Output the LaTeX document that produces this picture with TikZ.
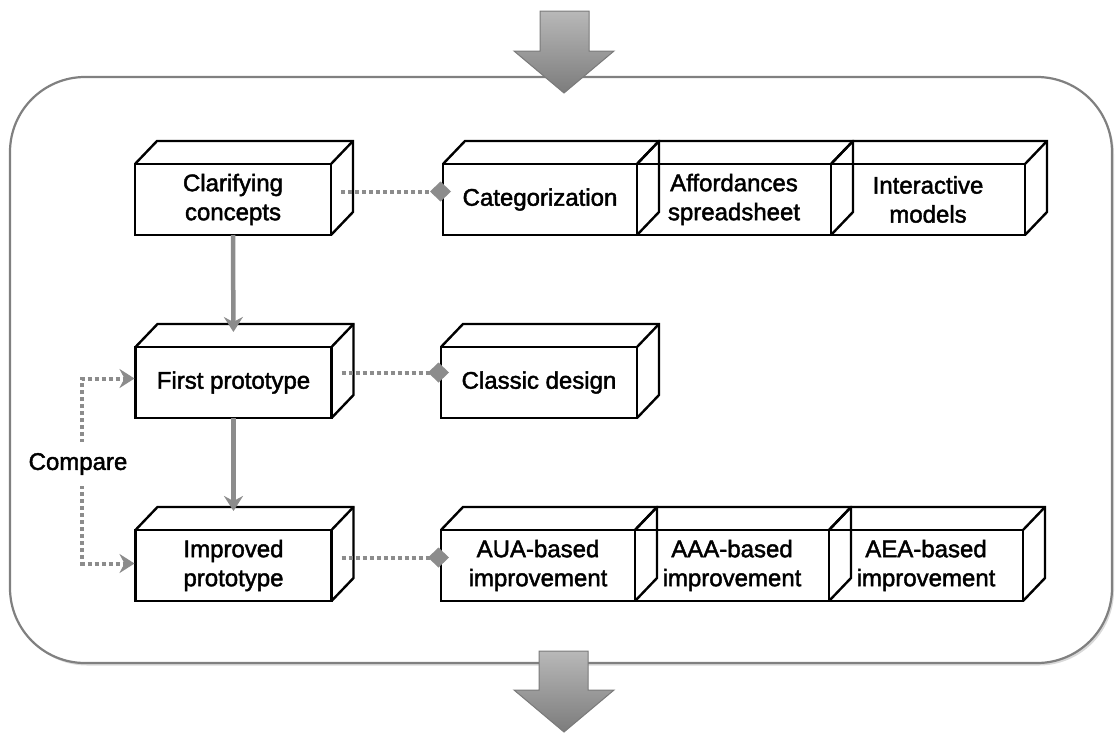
\documentclass[tikz,border=0pt]{standalone}
\usepackage{fontspec}
\setmainfont{Liberation Sans}
\newfontfamily\boxfont[FakeBold=1.8]{Liberation Sans}
\usetikzlibrary{arrows.meta,shadows}
\definecolor{linkgray}{HTML}{8C8C8C}
\definecolor{framegray}{HTML}{808080}
\definecolor{arrowedge}{HTML}{7A7A7A}
\definecolor{arrowtop}{HTML}{B8B8B8}
\definecolor{arrowbottom}{HTML}{7C7C7C}

% back edges (top face and right face) of a 3D box around a node
\newcommand\cubedepth[1]{%
  \draw[cubeedge] (#1.north west) -- ++(22,-23) -| ([shift={(22,-23)}]#1.south east) -- (#1.south east);
  \draw[cubeedge] (#1.north east) -- ++(22,-23);}

\begin{document}
\begin{tikzpicture}[x=1pt,y=-1pt,
  txt/.style={font=\boxfont\fontsize{24}{29}\selectfont},
  cube/.style={txt, draw=black, line width=2.4pt, inner sep=0pt, outer sep=0pt,
    minimum height=71pt, minimum width=194pt, align=center},
  cubeedge/.style={draw=black, line width=2.4pt, line join=miter},
  frame/.style={draw=framegray, line width=2.2pt, rounded corners=75pt, fill=white,
    drop shadow={shadow xshift=2pt, shadow yshift=-2.5pt, opacity=0.3}},
  bigarrow/.style={draw=arrowedge, line width=1pt, line join=miter,
    top color=arrowtop, bottom color=arrowbottom},
  flow/.style={draw=linkgray, line width=4.5pt,
    -{Stealth[length=15pt,width=19pt,inset=5pt]}},
  assoc/.style={draw=linkgray, line width=4pt, dash pattern=on 4pt off 3pt,
    -{Diamond[length=21pt,width=20pt,fill=linkgray]}, shorten >=-8pt},
  cmp/.style={draw=linkgray, line width=4pt, dash pattern=on 4pt off 3pt,
    -{Stealth[length=15pt,width=19pt,inset=5pt]}, shorten >=1pt},
  lbl/.style={txt, fill=white, inner xsep=2pt, inner ysep=11pt}
]
\useasboundingbox (0,0) rectangle (1118,734);

% outer frame
\draw[frame] (10,77) rectangle (1112,663);

% incoming and outgoing block arrows
\draw[bigarrow] (540,11) -- (589,11) -- (589,51) -- (614,51) -- (564,93)
  -- (514,51) -- (540,51) -- cycle;
\draw[bigarrow] (539,651) -- (588,651) -- (588,690) -- (614,690) -- (564,732)
  -- (514,690) -- (539,690) -- cycle;

% first row
\node[cube, minimum width=196pt] (clar) at (233,199.5) {Clarifying\\concepts};
\node[cube] (cat) at (540,199.5) {Categorization};
\node[cube] (aff) at (734,199.5) {Affordances\\spreadsheet};
\node[cube] (inter) at (928,199.5) {Interactive\\models};

% second row
\node[cube, minimum width=196pt] (first) at (233.5,382.5) {First prototype};
\node[cube, minimum width=196pt] (classic) at (539,382.5) {Classic design};

% third row
\node[cube, minimum width=196pt] (imp) at (233.5,565.5) {Improved\\prototype};
\node[cube] (aua) at (538,565.5) {AUA-based\\improvement};
\node[cube] (aaa) at (732,565.5) {AAA-based\\improvement};
\node[cube] (aea) at (926,565.5) {AEA-based\\improvement};

\foreach \n in {clar,cat,aff,inter,first,classic,imp,aua,aaa,aea} {\cubedepth{\n}}

% process flow
\draw[flow, shorten >=15pt] (clar.south) -- (first.north);
\draw[flow, shorten >=19pt] (first.south) -- (imp.north);

% associations
\draw[assoc] ([shift={(10,-8)}]clar.east) -- ([shift={(0,-8)}]cat.west);
\draw[assoc] ([shift={(10,-10)}]first.east) -- ([shift={(0,-10)}]classic.west);
\draw[assoc] ([shift={(10,-8)}]imp.east) -- ([shift={(0,-8)}]aua.west);

% comparison loop
\coordinate (cmpc) at (82,464);
\draw[cmp] (cmpc) |- ([shift={(0,-4)}]first.west);
\draw[cmp] (cmpc) |- ([shift={(0,-2)}]imp.west);
\node[lbl] (cmplabel) at (78,464) {Compare};
\end{tikzpicture}
\end{document}
